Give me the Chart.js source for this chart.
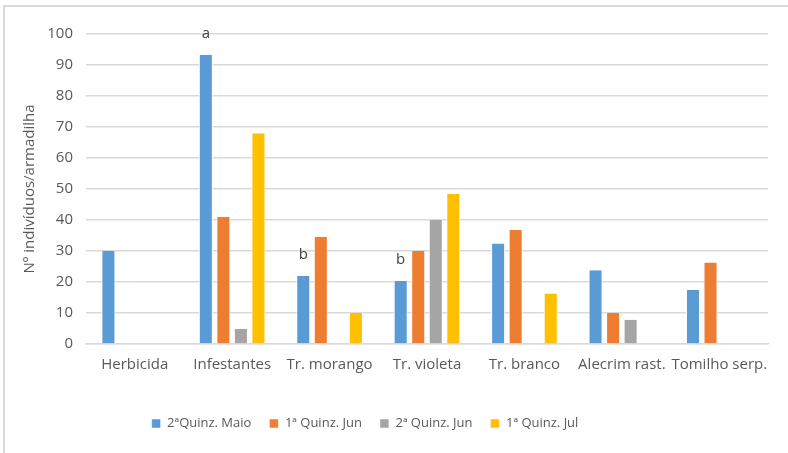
<!DOCTYPE html>
<html lang="pt">

<head>
  <meta charset="UTF-8">
  <title>Nº indivíduos por armadilha</title>
  <style>
    html, body { margin: 0; padding: 0; background: #fff; }
    #wrap { position: relative; width: 788px; height: 453px; }
  </style>
</head>

<body>
  <div id="wrap">
    <canvas id="chart" width="788" height="453"></canvas>
  </div>

  <script src="https://cdn.jsdelivr.net/npm/chart.js"></script>
  <script>
    // Categorias (tratamentos) e séries por quinzena
    const categories = ['Herbicida', 'Infestantes', 'Tr. morango', 'Tr. violeta', 'Tr. branco', 'Alecrim rast.', 'Tomilho serp.'];
    const seriesNames = ['2ªQuinz. Maio', '1ª Quinz. Jun', '2ª Quinz. Jun', '1ª Quinz. Jul'];
    const quinzMaio2 = [30, 93.3, 22, 20.3, 32.4, 23.8, 17.4];
    const quinzJun1 = [null, 41, 34.6, 30, 36.8, 10, 26.3];
    const quinzJun2 = [null, 4.8, null, 40, null, 7.8, null];
    const quinzJul1 = [null, 68, 10, 48.4, 16.3, null, null];
    // letras de significância sobre as barras de Maio
    const letters = ['', 'a', 'b', 'b', '', '', ''];
    const yTicks = [0, 10, 20, 30, 40, 50, 60, 70, 80, 90, 100];

    const colors = ['#5b9bd5', '#ed7d31', '#a5a5a5', '#ffc000'];
    const fontFamily = "'Open Sans', sans-serif";
    const textColor = '#595959';

    // moldura cinzenta (topo e lado esquerdo)
    const framePlugin = {
      id: 'frame',
      afterLayout(chart) {
        // legenda ligeiramente à esquerda do centro
        chart.legend.left -= 24;
        chart.legend.right -= 24;
      },
      beforeDraw(chart) {
        const ctx = chart.ctx;
        ctx.save();
        ctx.fillStyle = '#fff';
        ctx.fillRect(0, 0, chart.width, chart.height);
        ctx.strokeStyle = '#d9d9d9';
        ctx.lineWidth = 2;
        ctx.beginPath();
        ctx.moveTo(4, chart.height);
        ctx.lineTo(4, 6);
        ctx.lineTo(chart.width, 6);
        ctx.stroke();
        ctx.restore();
      }
    };

    const lettersPlugin = {
      id: 'letters',
      afterDatasetsDraw(chart) {
        const ctx = chart.ctx;
        const meta = chart.getDatasetMeta(0);
        const y = chart.scales.y;
        ctx.save();
        ctx.font = '15px ' + fontFamily;
        ctx.fillStyle = '#404040';
        ctx.textAlign = 'center';
        ctx.textBaseline = 'middle';
        letters.forEach((l, i) => {
          if (!l) return;
          const bar = meta.data[i];
          ctx.fillText(l, bar.x, y.getPixelForValue(quinzMaio2[i]) - 21);
        });
        ctx.restore();
      }
    };

    const datasets = [quinzMaio2, quinzJun1, quinzJun2, quinzJul1].map((d, i) => ({
      label: seriesNames[i],
      data: d,
      backgroundColor: colors[i],
      borderColor: '#ffffff',
      borderWidth: { left: 1, right: 1, top: 0, bottom: 0 },
      categoryPercentage: 0.72,
      barPercentage: 0.8
    }));

    new Chart(document.getElementById('chart'), {
      type: 'bar',
      data: { labels: categories, datasets },
      plugins: [framePlugin, lettersPlugin],
      options: {
        responsive: false,
        animation: false,
        layout: { padding: { left: 10, right: 20, top: 34, bottom: 13 } },
        plugins: {
          tooltip: { enabled: false },
          legend: {
            position: 'bottom',
            labels: {
              boxWidth: 9,
              boxHeight: 9,
              padding: 18,
              color: textColor,
              font: { family: fontFamily, size: 13 }
            }
          }
        },
        scales: {
          x: {
            grid: { display: false },
            border: { display: true, color: '#d9d9d9', width: 1.5 },
            ticks: { color: textColor, font: { family: fontFamily, size: 15 }, maxRotation: 0, autoSkip: false, padding: 4 },
            afterFit(axis) { axis.height = 55; }
          },
          y: {
            min: 0,
            max: 100,
            afterBuildTicks(axis) { axis.ticks = yTicks.map(v => ({ value: v })); },
            afterFit(axis) { axis.width = 76; },
            grid: { color: '#d9d9d9', lineWidth: 1.5, drawTicks: false },
            border: { display: false },
            ticks: { color: textColor, font: { family: fontFamily, size: 15 }, padding: 13 },
            title: {
              display: true,
              text: 'Nº indivíduos/armadilha',
              color: textColor,
              font: { family: fontFamily, size: 15 },
              padding: { top: 11, bottom: 0 }
            }
          }
        }
      }
    });
  </script>
</body>

</html>
